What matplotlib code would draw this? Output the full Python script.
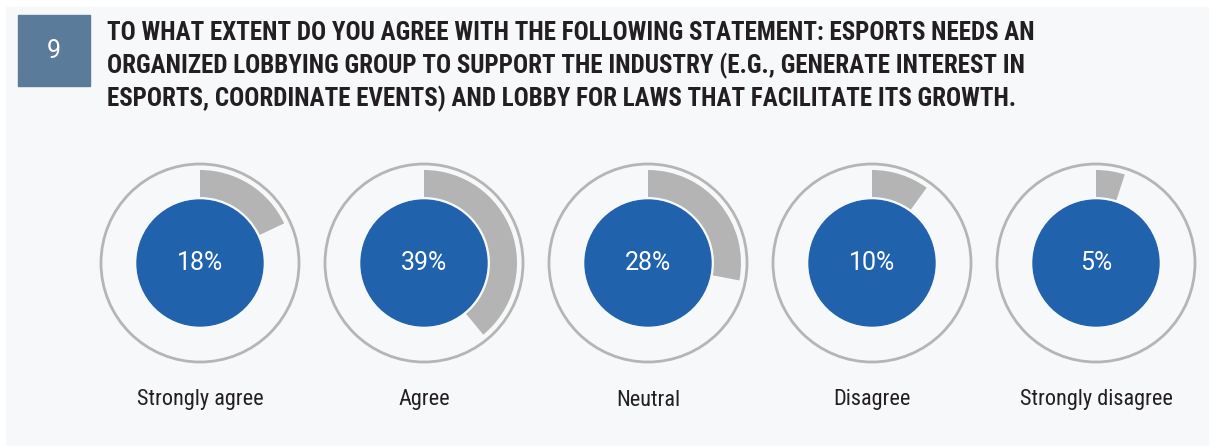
import matplotlib.pyplot as plt
from matplotlib.patches import Circle, Wedge, Rectangle

# survey answers
labels = ['Strongly agree', 'Agree', 'Neutral', 'Disagree', 'Strongly disagree']
shares = [18, 39, 28, 10, 5]

title_lines = [
    'TO WHAT EXTENT DO YOU AGREE WITH THE FOLLOWING STATEMENT: ESPORTS NEEDS AN',
    'ORGANIZED LOBBYING GROUP TO SUPPORT THE INDUSTRY (E.G., GENERATE INTEREST IN',
    'ESPORTS, COORDINATE EVENTS) AND LOBBY FOR LAWS THAT FACILITATE ITS GROWTH.',
]
question_no = '9'

W, H = 1213, 446
BLUE = '#2162ad'
GREY = '#b3b4b3'
PANEL = '#f7f8fa'
NARROW = ['Roboto Condensed', 'DejaVu Sans']
PLAIN = ['Roboto', 'DejaVu Sans']

fig = plt.figure(figsize=(W / 100, H / 100), dpi=100)
ax = fig.add_axes([0, 0, 1, 1])
ax.set_xlim(0, W)
ax.set_ylim(0, H)
ax.set_aspect('equal')
ax.axis('off')

# light panel behind everything
ax.add_patch(Rectangle((6, 1), 1202, 438, color=PANEL, zorder=0))

# question number box
ax.add_patch(Rectangle((18, H - 86), 72, 71, color='#5b7b9a', zorder=1))
ax.text(54, H - 51, question_no, color='white', fontsize=18, ha='center', va='center',
        family=PLAIN)

for i, line in enumerate(title_lines):
    ax.text(107, H - 33 - i * 33, line, fontsize=18, weight='bold', color='#231f20',
            ha='left', va='center', family=NARROW, stretch='condensed')

cx0, step, cy = 200, 224, H - 263
for i, (lab, v) in enumerate(zip(labels, shares)):
    cx = cx0 + i * step
    ax.add_patch(Circle((cx, cy), 99, fill=False, ec='#b5b5b5', lw=2, zorder=2))
    ax.add_patch(Wedge((cx, cy), 93, 90 - v * 3.6, 90, width=27, color=GREY, lw=0, zorder=3))
    ax.add_patch(Circle((cx, cy), 63, color=BLUE, zorder=4))
    ax.text(cx, cy, f'{v}%', color='white', fontsize=18, ha='center', va='center',
            family=PLAIN, zorder=5)
    ax.text(cx, H - 400, lab, color='#231f20', fontsize=16, ha='center', va='center',
            family=NARROW, stretch='condensed')

fig.savefig('out.png', dpi=100, facecolor='white')
